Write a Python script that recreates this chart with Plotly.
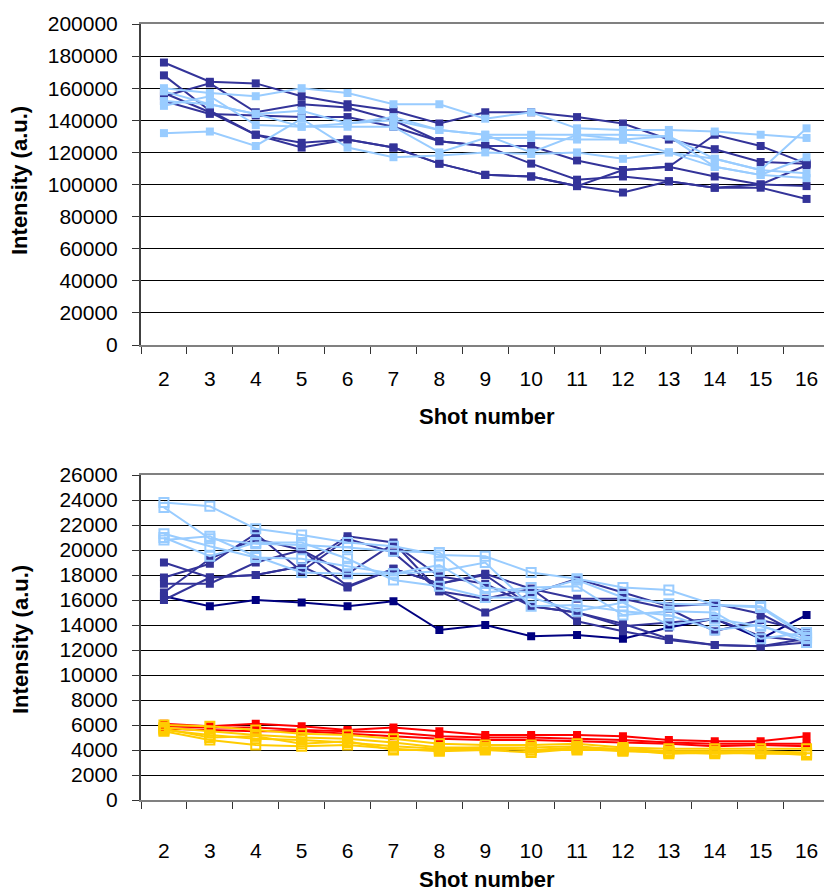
import plotly.graph_objects as go

shots = [str(s) for s in range(2, 17)]

# Upper panel: intensity per shot (a.u.)
top_dark = [
    [176000, 164000, 163000, 155000, 150000, 146000, 138000, 145000, 145000, 142000, 138000, 128000, 122000, 114000, 113000],
    [168000, 146000, 131000, 126000, 128000, 123000, 113000, 106000, 105000, 99000, 95000, 102000, 98000, 98000, 91000],
    [155000, 163000, 145000, 150000, 148000, 140000, 127000, 124000, 124000, 115000, 109000, 111000, 105000, 100000, 99000],
    [152000, 144000, 143000, 142000, 142000, 136000, 127000, 124000, 113000, 103000, 105000, 102000, 98000, 100000, 112000],
    [157000, 145000, 131000, 123000, 128000, 123000, 113000, 106000, 105000, 99000, 109000, 111000, 131000, 124000, 113000],
]
top_light = [
    [160000, 157000, 155000, 160000, 157000, 150000, 150000, 141000, 145000, 135000, 134000, 134000, 133000, 131000, 129000],
    [158000, 150000, 144000, 146000, 138000, 142000, 134000, 131000, 131000, 131000, 131000, 130000, 116000, 109000, 135000],
    [149000, 155000, 137000, 136000, 136000, 136000, 120000, 129000, 129000, 128000, 128000, 120000, 111000, 106000, 117000],
    [132000, 133000, 124000, 141000, 123000, 117000, 118000, 120000, 119000, 120000, 116000, 120000, 116000, 109000, 107000],
    [152000, 150000, 144000, 136000, 138000, 140000, 134000, 131000, 120000, 131000, 128000, 130000, 111000, 106000, 104000],
]

# Lower panel: intensity per shot (a.u.)
bot_navy = [16300, 15500, 16000, 15800, 15500, 15900, 13600, 14000, 13100, 13200, 12900, 13800, 14500, 12900, 14800]
bot_dark = [
    [19000, 17800, 18000, 18700, 17000, 18500, 17300, 18000, 15500, 15000, 14100, 12900, 12400, 12300, 12600],
    [17800, 18900, 21300, 18300, 20900, 19800, 16700, 15000, 16500, 17700, 16600, 15500, 15700, 14900, 13000],
    [17300, 17300, 19000, 20000, 18100, 20500, 17900, 17300, 15500, 15000, 13900, 14200, 14500, 13100, 12700],
    [16000, 17800, 18000, 18700, 21100, 20600, 16700, 16100, 16900, 16100, 16100, 15300, 13500, 14400, 13500],
    [16600, 19300, 20900, 20000, 17100, 18500, 17300, 18100, 16900, 14300, 13500, 12800, 12400, 12300, 12900],
]
bot_light = [
    [23800, 23500, 21700, 21200, 20600, 20300, 19600, 19500, 18200, 17700, 17000, 16800, 15600, 15500, 13200],
    [23400, 20900, 20500, 20400, 20200, 19900, 19800, 17000, 16600, 17600, 16200, 15700, 15600, 15400, 13000],
    [21300, 20300, 19400, 19300, 18700, 18100, 18300, 19000, 15500, 15600, 15100, 14800, 13600, 14000, 12600],
    [21000, 19500, 20600, 20600, 19300, 17600, 17100, 16200, 16200, 15100, 15800, 14000, 14500, 13900, 12900],
    [20800, 21100, 19500, 18200, 18100, 18100, 18800, 16600, 17000, 17100, 14800, 15100, 15000, 12900, 13400],
]
bot_red = [
    [6100, 5900, 6100, 5900, 5600, 5800, 5500, 5200, 5200, 5200, 5100, 4800, 4700, 4700, 5100],
    [5900, 5800, 5800, 5600, 5500, 5400, 5100, 5000, 5000, 4900, 4800, 4600, 4500, 4500, 4500],
    [5700, 5600, 5500, 5500, 5300, 5100, 4900, 4800, 4800, 4700, 4600, 4500, 4300, 4400, 4300],
]
bot_yellow = [
    [6000, 5900, 5600, 5300, 5200, 4900, 4500, 4400, 4400, 4500, 4200, 4100, 4100, 4100, 4100],
    [5800, 5500, 5200, 5000, 4900, 4600, 4200, 4200, 4200, 4300, 4000, 3900, 3900, 3900, 3800],
    [5600, 5200, 4900, 4800, 4600, 4300, 4100, 4200, 4000, 4200, 4100, 3900, 3900, 3900, 3700],
    [5500, 4800, 4400, 4300, 4400, 4100, 3900, 4000, 3800, 4100, 3900, 3800, 3700, 3800, 3600],
    [5700, 5000, 5100, 4500, 4700, 4000, 4000, 4100, 4000, 4000, 4000, 3700, 3800, 3700, 3700],
]

DARK = "#333399"
LIGHT = "#99CCFF"
NAVY = "#000080"
RED = "#FF0000"
YELLOW = "#FFCC00"
FONT = "Liberation Sans, Arial, sans-serif"

fig = go.Figure()


def add_series(values, color, xa, ya, symbol="square", size=8):
    fig.add_trace(go.Scatter(
        x=shots, y=values, xaxis=xa, yaxis=ya, mode="lines+markers",
        line=dict(color=color, width=2),
        marker=dict(symbol=symbol, size=size, color=color,
                    line=dict(color=color, width=2 if "open" in symbol else 0)),
        showlegend=False, hoverinfo="x+y",
    ))


for s in top_dark:
    add_series(s, DARK, "x", "y")
for s in top_light:
    add_series(s, LIGHT, "x", "y")

add_series(bot_navy, NAVY, "x2", "y2")
for s in bot_dark:
    add_series(s, DARK, "x2", "y2")
for s in bot_light:
    add_series(s, LIGHT, "x2", "y2", symbol="square-open", size=9)
for s in bot_red:
    add_series(s, RED, "x2", "y2")
for s in bot_yellow:
    add_series(s, YELLOW, "x2", "y2", symbol="square-open", size=9)

W, H, L = 824, 893, 141
span = (W - L) / 45.9
xcommon = dict(
    type="category", categoryorder="array", categoryarray=shots,
    range=[-0.5, -0.5 + span], tickson="boundaries",
    ticks="outside", ticklen=7, tickcolor="#333333", tickwidth=1,
    showgrid=False, showline=True, linecolor="#808080", linewidth=2, mirror=True,
    tickfont=dict(family=FONT, size=21, color="black"),
    zeroline=False,
)
ycommon = dict(
    ticks="outside", ticklen=7, tickcolor="#333333", tickwidth=1,
    showline=True, linecolor="#404040", linewidth=2,
    showgrid=True, gridcolor="black", gridwidth=1,
    zeroline=False, tickformat="d",
    tickfont=dict(family=FONT, size=21, color="black"),
    ticklabelstandoff=10,
)


def ydom(top_px, bot_px):
    return [1 - bot_px / H, 1 - top_px / H]


fig.update_layout(
    width=W, height=H,
    margin=dict(l=L, r=0, t=0, b=0, autoexpand=False),
    paper_bgcolor="white", plot_bgcolor="white",
    xaxis=dict(xcommon, anchor="y", ticklabelstandoff=14),
    yaxis=dict(ycommon, anchor="x", domain=ydom(24, 345), range=[0, 200000], dtick=20000),
    xaxis2=dict(xcommon, anchor="y2", ticklabelstandoff=31),
    yaxis2=dict(ycommon, anchor="x2", domain=ydom(475, 800), range=[0, 26000], dtick=2000),
)


def px_x(p):
    return (p - L) / (W - L)


def px_y(p):
    return 1 - p / H


title_font = dict(family=FONT, size=22, color="black", weight="bold")
for yc in (181, 640):
    fig.add_annotation(text="Intensity (a.u.)", x=px_x(20), y=px_y(yc), xref="paper", yref="paper",
                       textangle=-90, showarrow=False, font=title_font,
                       xanchor="center", yanchor="middle")
for yc in (416, 879):
    fig.add_annotation(text="Shot number", x=px_x(487), y=px_y(yc), xref="paper", yref="paper",
                       showarrow=False, font=title_font, xanchor="center", yanchor="middle")

fig.write_html("out.html")
